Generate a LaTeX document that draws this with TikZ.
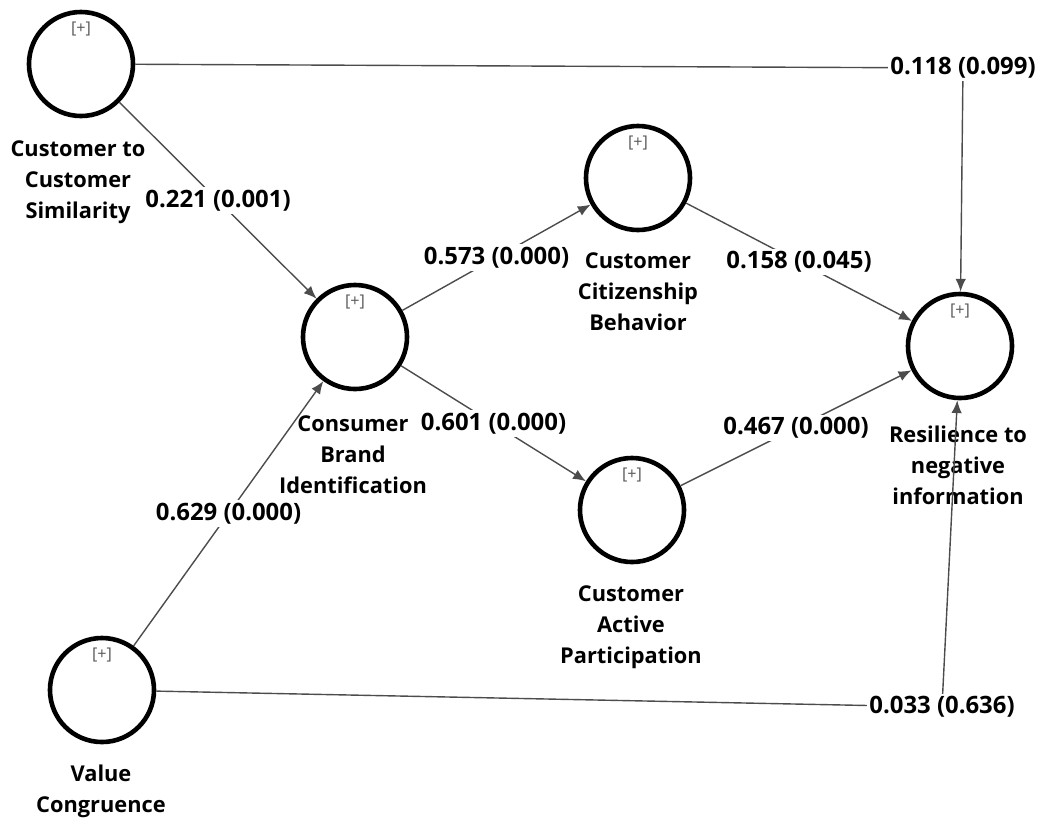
\documentclass[tikz,border=0pt]{standalone}
\usepackage{fontspec}
\setmainfont{Open Sans}
\usetikzlibrary{arrows.meta,positioning,calc}

\tikzset{
  lv/.style={circle, draw, line width=1.15mm, minimum size=2.6cm, inner sep=0pt},
  tag/.style={font=\fontsize{11.5}{11.5}\selectfont, text=black!65, inner sep=0pt},
  lvname/.style={font=\bfseries\fontsize{15.5}{22}\selectfont, align=center, inner sep=0pt},
  coef/.style={font=\bfseries\fontsize{17}{18}\selectfont, fill=white, inner sep=2pt},
  link/.style={draw=black!70, line width=0.35mm, -{Latex[length=3.2mm,width=2.6mm]}},
}

\begin{document}
\begin{tikzpicture}[x=0.025cm,y=-0.025cm]
\useasboundingbox (0,0) rectangle (1040,818);
% latent variables
\node[lv] (ccs) at (81,64) {};
\node[lv] (cbi) at (355,337) {};
\node[lv] (ccb) at (638,178) {};
\node[lv] (cap) at (632,510) {};
\node[lv] (rni) at (960,346) {};
\node[lv] (vc) at (102,690) {};
\node[tag] (ccs-t) at ([yshift=-4.75mm]ccs.north) {[+]};
\node[tag] (cbi-t) at ([yshift=-4.75mm]cbi.north) {[+]};
\node[tag] (ccb-t) at ([yshift=-4.75mm]ccb.north) {[+]};
\node[tag] (cap-t) at ([yshift=-4.75mm]cap.north) {[+]};
\node[tag] (rni-t) at ([yshift=-4.75mm]rni.north) {[+]};
\node[tag] (vc-t) at ([yshift=-4.75mm]vc.north) {[+]};
% names
\node[lvname] (ccs-n) at (78,182) {Customer to\\Customer\\Similarity};
\node[lvname] (cbi-n) at (353,455) {Consumer\\Brand\\Identification};
\node[lvname] (ccb-n) at (638,292) {Customer\\Citizenship\\Behavior};
\node[lvname] (cap-n) at (631,627) {Customer\\Active\\Participation};
\node[lvname] (rni-n) at (958,465) {Resilience to\\negative\\information};
\node[lvname] (vc-n) at (101,791) {Value\\Congruence};
% paths
\coordinate (b1) at (963,68);
\coordinate (b2) at (942,707);
\draw[link] (ccs) -- (b1) -- (rni);
\draw[link] (vc) -- (b2) -- (rni);
\node[coef] (p1) at (b1) {0.118 (0.099)};
\node[coef] (p2) at (b2) {0.033 (0.636)};
\draw[link] (ccs) -- node[coef] (p3) {0.221 (0.001)} (cbi);
\draw[link] (vc) -- node[coef] (p4) {0.629 (0.000)} (cbi);
\draw[link] (cbi) -- node[coef] (p5) {0.573 (0.000)} (ccb);
\draw[link] (cbi) -- node[coef] (p6) {0.601 (0.000)} (cap);
\draw[link] (ccb) -- node[coef] (p7) {0.158 (0.045)} (rni);
\draw[link] (cap) -- node[coef] (p8) {0.467 (0.000)} (rni);
\end{tikzpicture}
\end{document}
